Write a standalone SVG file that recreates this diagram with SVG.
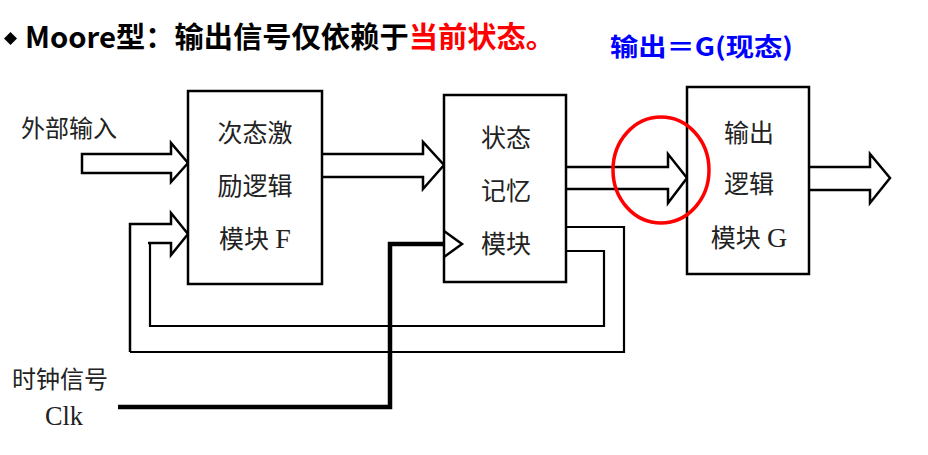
<svg xmlns="http://www.w3.org/2000/svg" width="928" height="455" viewBox="0 0 928 455">
<style>
.box{fill:#fff;stroke:#000;stroke-width:2.5}
.arr{fill:#fff;stroke:#000;stroke-width:2.5;stroke-linejoin:miter}
.ln{fill:none;stroke:#000;stroke-width:2.2}
.clk{fill:none;stroke:#000;stroke-width:4.5}
.bt{font-family:"Liberation Serif","Noto Sans CJK SC",serif;font-size:25px;fill:#222;text-anchor:middle}
.lt{font-family:"Liberation Serif","Noto Sans CJK SC",serif;font-size:24px;fill:#222}
.tt{font-family:"Noto Sans CJK SC","Liberation Sans",sans-serif;font-weight:bold;font-size:29px}
</style>
<rect width="928" height="455" fill="#fff"/>
<g id="title">
<polygon points="4,38.5 10.5,32 17,38.5 10.5,45" fill="#000"/>
<text class="tt" x="25" y="48" textLength="530" lengthAdjust="spacingAndGlyphs"><tspan fill="#000">Moore型：输出信号仅依赖于</tspan><tspan fill="#ff0000">当前状态。</tspan></text>
<text class="tt" x="610" y="56" fill="#0000ff" style="font-size:25px" textLength="183" lengthAdjust="spacingAndGlyphs">输出＝G(现态)</text>
</g>
<g id="connectors">
<polygon class="arr" points="82,154 171,154 171,143 188,163 171,182 171,173 82,173"/>
<polyline class="arr" points="322,154 423,154 423,142 444,165 423,189 423,177 322,177"/>
<polyline class="arr" points="566,167 668,167 668,154 687,178 668,203 668,189 566,189"/>
<polyline class="arr" points="809,167 870,167 870,154 890,178 870,203 870,190 809,190"/>
<polyline class="arr" style="fill:none" points="130,352 130,224 171,224 171,213 188,234 171,255 171,243 148,243"/>
<polyline class="ln" points="150,243 150,326 604,326 604,251 566,251"/>
<polyline class="ln" points="130,352 624,352 624,227 566,227"/>
<polyline class="clk" points="118,407 390,407 390,244 444,244"/>
</g>
<g id="nodeF">
<rect class="box" x="188" y="91" width="134" height="193"/>
<text class="bt" x="255" y="142">次态激</text>
<text class="bt" x="255" y="195">励逻辑</text>
<text class="bt" x="255" y="248">模块 <tspan style="font-size:28px">F</tspan></text>
</g>
<g id="nodeState">
<rect class="box" x="444" y="95" width="122" height="187"/>
<polyline class="arr" style="fill:none" points="444,231 462,244 444,257"/>
<text class="bt" x="506" y="147">状态</text>
<text class="bt" x="506" y="200">记忆</text>
<text class="bt" x="506" y="253">模块</text>
</g>
<g id="nodeG">
<rect class="box" x="687" y="87" width="122" height="187"/>
<text class="bt" x="749" y="142">输出</text>
<text class="bt" x="749" y="193">逻辑</text>
<text class="bt" x="749" y="247">模块 <tspan style="font-size:28px">G</tspan></text>
</g>
<g id="labels">
<text class="lt" x="21" y="137">外部输入</text>
<text class="lt" x="12" y="388">时钟信号</text>
<text class="lt" x="45" y="425" style="font-size:28px" textLength="38" lengthAdjust="spacingAndGlyphs">Clk</text>
</g>
<ellipse cx="661" cy="170" rx="48" ry="53" fill="none" stroke="#ff0000" stroke-width="3.5"/>
</svg>
